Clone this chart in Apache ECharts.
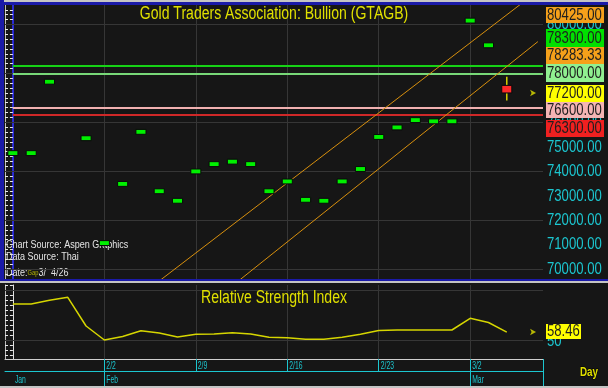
<!DOCTYPE html>
<html><head><meta charset="utf-8">
<script src="https://cdn.jsdelivr.net/npm/echarts@6/dist/echarts.min.js"></script>
<style>html,body{margin:0;padding:0;background:#161616;}#c{width:608px;height:388px;}</style>
</head><body><div id="c"></div>
<script>
// ---- data ----
const dates = ['1/26','1/27','1/28','1/29','1/30','2/2','2/3','2/4','2/5','2/6','2/9','2/10','2/11','2/12','2/13','2/16','2/17','2/18','2/19','2/20','2/23','2/24','2/25','2/26','2/27','3/2','3/3','3/4'];
const openP  = [74640,74640,77560,null,75250,70960,73380,75510,73080,72690,73890,74190,74290,74190,73080,73480,72730,72690,73480,73990,75300,75690,75990,75940,75940,80060,79050,77510];
const closeP = [74840,74840,77760,null,75450,71160,73580,75710,73280,72890,74090,74390,74490,74390,73280,73680,72930,72890,73680,74190,75500,75890,76190,76140,76140,80260,79250,77200];
const lowP   = [74640,74640,77560,null,75250,70960,73380,75510,73080,72690,73890,74190,74290,74190,73080,73480,72730,72690,73480,73990,75300,75690,75990,75940,75940,80060,79050,76890];
const highP  = [74840,74840,77760,null,75450,71160,73580,75710,73280,72890,74090,74390,74490,74390,73280,73680,72930,72890,73680,74190,75500,75890,76190,76140,76140,80260,79250,77860];
const rsi    = [86.5,86.5,90.2,93.2,64.5,50.5,54.0,59.8,57.5,53.5,56.2,56.5,57.8,56.5,53.2,52.7,51.2,51.2,53.2,56.2,60.0,60.5,60.5,60.5,60.5,72.2,68.0,58.46];
const levelValues = [78300, 78000, 76600, 76300];
const priceLabels = [80425, 78300, 78283.33, 78000, 77200, 76600, 76300];
const lastPrice = 77200;
const lastRsi = 58.46;
const priceTicks = [70000,71000,72000,73000,74000,75000,76000,77000,78000,79000,80000];
const priceGrid = [70000,72000,74000,76000,78000,80000];
const rsiTicks = [50];
const rsiGrid = [50, 100];
const weekIdx = [5,10,15,20,25];
const monthIdx = [0,5,25];
const monthNames = ['Jan','Feb','Mar'];
const trendUpper = [[8, 69510],[28, 80970]];
const trendLower = [[12, 69314],[28.7, 79300]];
const titleText = 'Gold Traders Association: Bullion (GTAGB)';
const rsiTitle = 'Relative Strength Index';

// ---- styles / layout ----
const FONT = "'Liberation Sans',Arial,sans-serif";
const NX = 0.82;            // horizontal squeeze to mimic a narrow face
const CYAN = '#1cc6d0';
const GRIDC = '#363636';
const levelColors = ['#16d216','#78d878','#f0b0b0','#d02828'];
const boxColors = ['#f5a01a','#00e000','#f5a01a','#90f090','#ffff00','#f4b4b4','#f02020'];
const boxSpans = [[7,23],[29,47],[47,64],[64,82],[85,102],[102,118],[120,137]];
const X_MIN = -0.432, X_MAX = 28.98;
const P_MIN = 69591, P_MAX = 80798;
const R_MIN = 31.5, R_MAX = 105.5;

const minorPriceTicks = [];
for (let v = 69600; v <= 80800; v += 200) minorPriceTicks.push(v);
const minorRsiTicks = [];
for (let v = 35; v <= 105; v += 5) minorRsiTicks.push(v);

const candleData = [];
dates.forEach((d, i) => { if (openP[i] != null) candleData.push([i, openP[i], closeP[i], lowP[i], highP[i]]); });

function renderCandle(params, api) {
  const x = api.value(0), o = api.value(1), c = api.value(2), l = api.value(3), h = api.value(4);
  const pO = api.coord([x, o]), pC = api.coord([x, c]), pL = api.coord([x, l]), pH = api.coord([x, h]);
  const w = api.size([1, 0])[0] * 0.55;
  const top = Math.min(pO[1], pC[1]), bot = Math.max(pO[1], pC[1]);
  const up = c >= o;
  const children = [];
  if (h > Math.max(o, c) || l < Math.min(o, c)) {
    children.push({type:'line', shape:{x1:pH[0], y1:pH[1], x2:pL[0], y2:pL[1]}, style:{stroke:'#d8d000', lineWidth:1.5}});
  }
  children.push({type:'rect', shape:{x:pO[0]-w/2, y:top, width:w, height:bot-top}, style:{fill: up ? '#00f000' : '#ff2a2a', stroke:'#0a0a0a', lineWidth:1}});
  return {type:'group', children};
}

// axis labels drawn as squeezed text through the axes' own scales
function axisTextRenderer(textOf, dx, dy, size, color, vAlign, sx) {
  return function (params, api) {
    const p = api.coord([api.value(0), api.value(1)]);
    return {type:'text', x:p[0] + dx, y:p[1] + dy, scaleX:sx,
      style:{text:textOf(params.dataIndex), fill:color, font:size + 'px ' + FONT, verticalAlign:vAlign, align:'left'}};
  };
}

function ntext(x, y, text, size, color, extra, z) {
  return {type:'text', z:(z == null ? 60 : z), x:x, y:y, scaleX:NX,
    style:Object.assign({text:text, fill:color, font:size + 'px ' + FONT, verticalAlign:'middle'}, extra || {})};
}

const graphics = [
  {type:'rect', z:50, shape:{x:0,y:0,width:608,height:2}, style:{fill:'#c4c4c4'}},
  {type:'rect', z:50, shape:{x:0,y:2,width:608,height:3}, style:{fill:'#1a1aa8'}},
  {type:'rect', z:50, shape:{x:0,y:0,width:4,height:281}, style:{fill:'#1a1aa8'}},
  {type:'rect', z:50, shape:{x:0,y:279,width:608,height:2}, style:{fill:'#1a1aa8'}},
  {type:'rect', z:50, shape:{x:0,y:281,width:608,height:2}, style:{fill:'#c4c4c4'}},
  {type:'rect', z:50, shape:{x:0,y:386,width:608,height:2}, style:{fill:'#c4c4c4'}},
  {type:'rect', z:50, shape:{x:543,y:359,width:1,height:27}, style:{fill:CYAN}},
  {type:'text', z:60, x:274, y:14, scaleX:0.78,
    style:{text:titleText, fill:'#e0e000', font:'18px ' + FONT, align:'center', verticalAlign:'middle'}},
  {type:'text', z:60, x:274, y:298.5, scaleX:0.78,
    style:{text:rsiTitle, fill:'#e0e000', font:'18px ' + FONT, align:'center', verticalAlign:'middle'}},
  ntext(6, 245, 'Chart Source: Aspen Graphics', 11, '#e4e4e4', null, 1),
  ntext(6, 257, 'Data Source: Thai', 11, '#e4e4e4', null, 1),
  ntext(6, 273, 'Date:{g|Gap}3/  4/26', 11, '#e4e4e4', {rich:{g:{fill:'#b8b800', font:'7px ' + FONT}}}, 1),
  ntext(580, 373, 'Day', 12, '#e0e000', {font:'bold 12px ' + FONT, stroke:'#000', lineWidth:1})
];
priceLabels.forEach((v, k) => {
  const s = boxSpans[k];
  graphics.push({type:'rect', z:70, shape:{x:546, y:s[0], width:58, height:s[1]-s[0]}, style:{fill:boxColors[k]}});
  graphics.push(ntext(547, (s[0]+s[1])/2 + 0.5, v.toFixed(2), 16, '#1e1e1e', null, 71));
});
graphics.push({type:'rect', z:70, shape:{x:546, y:324, width:35, height:15}, style:{fill:'#ffff00'}});
graphics.push(ntext(547, 332, lastRsi.toFixed(2), 16, '#1e1e1e', null, 71));

const hidden = {axisLine:{show:false}, axisTick:{show:false}, axisLabel:{show:false}, splitLine:{show:false}};

const option = {
  backgroundColor:'#161616',
  animation:false,
  grid:[
    {left:5, top:5, width:538, height:274, outerBoundsMode:'none', containLabel:false},
    {left:5, top:285, width:538, height:74, outerBoundsMode:'none', containLabel:false},
    {left:5, top:370, width:538, height:1, outerBoundsMode:'none', containLabel:false}
  ],
  xAxis:[
    Object.assign({gridIndex:0, type:'value', min:X_MIN, max:X_MAX}, hidden),
    {gridIndex:1, type:'value', min:X_MIN, max:X_MAX, position:'bottom',
     axisLine:{show:true, lineStyle:{color:'#cfcfcf', width:1}},
     axisTick:{show:true, customValues:weekIdx, length:12, inside:false, lineStyle:{color:CYAN, width:1}},
     axisLabel:{show:false}, splitLine:{show:false}},
    {gridIndex:2, type:'value', min:X_MIN, max:X_MAX, position:'bottom',
     axisLine:{show:true, lineStyle:{color:CYAN, width:1}},
     axisTick:{show:true, customValues:[5,25], length:17, inside:false, lineStyle:{color:CYAN, width:1}},
     axisLabel:{show:false}, splitLine:{show:false}}
  ],
  yAxis:[
    {gridIndex:0, type:'value', position:'right', min:P_MIN, max:P_MAX,
     axisLine:{show:true, lineStyle:{color:'#2a2ad0', width:2}},
     axisTick:{show:true, inside:true, length:3, customValues:minorPriceTicks, lineStyle:{color:'#e8e8e8'}},
     axisLabel:{show:false}, splitLine:{show:false}},
    {gridIndex:0, type:'value', position:'left', min:P_MIN, max:P_MAX,
     axisLine:{show:true, lineStyle:{color:'#bcbcbc', width:1}},
     axisTick:{show:true, inside:true, length:3, customValues:minorPriceTicks, lineStyle:{color:'#e8e8e8'}},
     axisLabel:{show:false}, splitLine:{show:false}},
    {gridIndex:1, type:'value', position:'right', min:R_MIN, max:R_MAX,
     axisLine:{show:true, lineStyle:{color:'#e0e0e0', width:1}},
     axisTick:{show:true, inside:true, length:3, customValues:minorRsiTicks, lineStyle:{color:'#e8e8e8'}},
     axisLabel:{show:false}, splitLine:{show:false}},
    {gridIndex:1, type:'value', position:'left', min:R_MIN, max:R_MAX,
     axisLine:{show:true, lineStyle:{color:'#bcbcbc', width:1}},
     axisTick:{show:true, inside:true, length:3, customValues:minorRsiTicks, lineStyle:{color:'#e8e8e8'}},
     axisLabel:{show:false}, splitLine:{show:false}},
    {gridIndex:2, type:'value', min:0, max:1, show:false}
  ],
  graphic: graphics,
  series:[
    {type:'line', xAxisIndex:0, yAxisIndex:0, data:[], silent:true,
     markLine:{silent:true, symbol:'none', z:1, label:{show:false}, lineStyle:{color:GRIDC, type:'solid', width:1},
       data: priceGrid.map(v => ({yAxis:v})).concat(weekIdx.map(v => ({xAxis:v})))}},
    {type:'line', xAxisIndex:0, yAxisIndex:0, data:[], silent:true,
     markLine:{silent:true, symbol:'none', z:3, label:{show:false},
       data: levelValues.map((v, k) => [{coord:[0, v], lineStyle:{color:levelColors[k], width:2, type:'solid'}}, {coord:[X_MAX, v]}])}},
    {type:'line', xAxisIndex:0, yAxisIndex:0, data:trendUpper, showSymbol:false, silent:true, z:4, clip:true,
     lineStyle:{color:'#d8900e', width:1}},
    {type:'line', xAxisIndex:0, yAxisIndex:0, data:trendLower, showSymbol:false, silent:true, z:4, clip:true,
     lineStyle:{color:'#d8900e', width:1}},
    {type:'custom', xAxisIndex:0, yAxisIndex:0, data:candleData, renderItem:renderCandle, z:5, clip:true},
    {type:'scatter', xAxisIndex:0, yAxisIndex:0, data:[[X_MAX - 0.38, lastPrice]], symbol:'arrow', symbolSize:[5,6], symbolRotate:-90,
     itemStyle:{color:'#e0e000'}, silent:true, z:6, clip:false},
    // price axis labels
    {type:'custom', xAxisIndex:0, yAxisIndex:0, silent:true, clip:false, z:3,
     data: priceTicks.map(v => [X_MAX, v]),
     renderItem: axisTextRenderer(i => priceTicks[i].toFixed(2), 4, 0.5, 16, CYAN, 'middle', NX)},
    // RSI panel
    {type:'line', xAxisIndex:1, yAxisIndex:2, data:[], silent:true,
     markLine:{silent:true, symbol:'none', z:1, label:{show:false}, lineStyle:{color:GRIDC, type:'solid', width:1},
       data: rsiGrid.map(v => ({yAxis:v})).concat(weekIdx.map(v => ({xAxis:v})))}},
    {type:'line', xAxisIndex:1, yAxisIndex:2, data:rsi.map((v, i) => [i, v]), showSymbol:false, silent:true, z:4,
     lineStyle:{color:'#d6d600', width:1.5}},
    {type:'scatter', xAxisIndex:1, yAxisIndex:2, data:[[X_MAX - 0.38, lastRsi]], symbol:'arrow', symbolSize:[5,6], symbolRotate:-90,
     itemStyle:{color:'#e0e000'}, silent:true, z:6, clip:false},
    {type:'custom', xAxisIndex:1, yAxisIndex:2, silent:true, clip:false, z:3,
     data: rsiTicks.map(v => [X_MAX, v]),
     renderItem: axisTextRenderer(i => String(rsiTicks[i]), 4, 1.5, 16, CYAN, 'middle', NX)},
    // week labels under RSI panel
    {type:'custom', xAxisIndex:1, yAxisIndex:2, silent:true, clip:false, z:3,
     data: weekIdx.map(i => [i, R_MIN]),
     renderItem: axisTextRenderer(i => dates[weekIdx[i]], 2, 2, 10, CYAN, 'top', 0.68)},
    // month labels
    {type:'custom', xAxisIndex:2, yAxisIndex:4, silent:true, clip:false, z:3,
     data: monthIdx.map(i => [i, 0]),
     renderItem: axisTextRenderer(i => monthNames[i], 2, 4, 10, CYAN, 'top', 0.68)}
  ]
};
const chart = echarts.init(document.getElementById('c'), null, {renderer:'canvas'});
chart.setOption(option);
</script></body></html>
